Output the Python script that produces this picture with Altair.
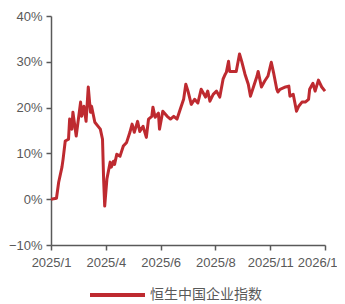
import altair as alt
import pandas as pd

series_name = "恒生中国企业指数"

# trading-day index (0..250) and cumulative return (%)
day_index = [0, 5, 7, 10, 11, 13, 16, 17, 19, 20, 23, 27, 28, 30, 32, 34, 36, 37, 40, 43,
             45, 47, 48, 49, 51, 54, 55, 57, 58, 60, 63, 66, 69, 72, 74, 76, 79, 81, 84, 87,
             89, 92, 93, 95, 98, 99, 102, 106, 109, 112, 115, 118, 121, 123, 125, 128, 131, 134, 137, 141,
             143, 145, 148, 151, 154, 157, 159, 160, 162, 163, 166, 169, 172, 174, 177, 180, 182, 185, 188, 189,
             192, 195, 198, 201, 203, 206, 207, 209, 214, 217, 218, 221, 224, 226, 229, 232, 235, 236, 239, 241,
             244, 247, 250]
returns_pct = [0.0, 0.2, 3.7, 7.0, 8.7, 12.7, 13.1, 17.5, 15.3, 19.0, 13.8, 21.2, 18.1, 20.3, 17.0, 24.5, 19.0, 20.3, 16.8, 15.9,
               15.3, 13.1, 4.4, -1.5, 4.4, 8.1, 7.0, 8.3, 7.6, 9.8, 9.4, 11.6, 12.4, 14.6, 16.4, 14.6, 17.0, 14.8, 15.9, 13.5,
               17.5, 18.1, 20.1, 17.9, 18.8, 15.3, 19.2, 18.1, 17.5, 18.1, 17.5, 19.7, 21.8, 25.1, 23.6, 20.7, 21.8, 21.0, 24.0, 22.3,
               23.6, 21.4, 22.9, 23.6, 22.3, 26.2, 27.3, 27.7, 30.1, 27.9, 27.9, 27.9, 31.7, 30.1, 27.3, 25.1, 22.5, 24.7, 26.9, 27.9,
               24.5, 25.8, 26.9, 29.9, 27.7, 24.0, 23.4, 24.0, 24.5, 24.7, 22.5, 22.9, 19.2, 20.3, 21.2, 21.2, 21.8, 24.0, 25.3, 23.6,
               26.0, 24.5, 23.6]

tick_positions = [0, 50, 100, 150, 200, 250]
tick_labels = ["2025/1", "2025/4", "2025/6", "2025/8", "2025/11", "2026/1"]
y_ticks = [-10, 0, 10, 20, 30, 40]

df = pd.DataFrame({"i": day_index, "v": returns_pct})

label_expr = "''"
for p, l in reversed(list(zip(tick_positions, tick_labels))):
    label_expr = f"datum.value == {p} ? '{l}' : ({label_expr})"

last_tick = tick_positions[-1]
axis_color = "#595959"
red = "#BE2A30"

line = alt.Chart(df).mark_line(strokeWidth=3, strokeJoin="round", color=red).encode(
    x=alt.X("i:Q", scale=alt.Scale(domain=[0, 250], nice=False, zero=False),
            axis=alt.Axis(values=tick_positions, labelExpr=label_expr, title=None, grid=False,
                          domainColor=axis_color, tickColor=axis_color, domainWidth=1.5, tickWidth=1.5,
                          tickSize=5, labelColor=axis_color, labelFontSize=13, labelPadding=6,
                          labelFont="Liberation Sans", labelFlush=False, labelOverlap=False,
                          labelAlign=alt.ExprRef(expr=f"datum.value == {last_tick} ? 'right' : 'center'"),
                          labelOffset=alt.ExprRef(expr=f"datum.value == {last_tick} ? 12 : 0"))),
    y=alt.Y("v:Q", scale=alt.Scale(domain=[-10, 40], nice=False),
            axis=alt.Axis(values=y_ticks, labelExpr="format(datum.value/100, '.0%')", title=None, grid=False,
                          domainColor=axis_color, tickColor=axis_color, domainWidth=1.5, tickWidth=1.5,
                          tickSize=5, labelColor=axis_color, labelFontSize=13, labelPadding=4,
                          labelFont="Liberation Sans")),
)

legend_df = pd.DataFrame({"s": [series_name]})
legend_line = alt.Chart(legend_df).mark_rule(strokeWidth=4, color=red).encode(
    x=alt.value(39), x2=alt.value(94), y=alt.value(279)
)
legend_text = alt.Chart(legend_df).mark_text(
    align="left", baseline="middle", fontSize=14, color=axis_color, font="Noto Sans CJK SC"
).encode(x=alt.value(99), y=alt.value(279), text="s:N")

chart = alt.layer(line, legend_line, legend_text).properties(
    width=274, height=229,
    autosize=alt.AutoSizeParams(type="none"),
    padding={"left": 43, "top": 8, "right": 12, "bottom": 60},
).configure_view(stroke=None)

chart.save("out.html", embed_options={"renderer": "svg", "actions": False})
